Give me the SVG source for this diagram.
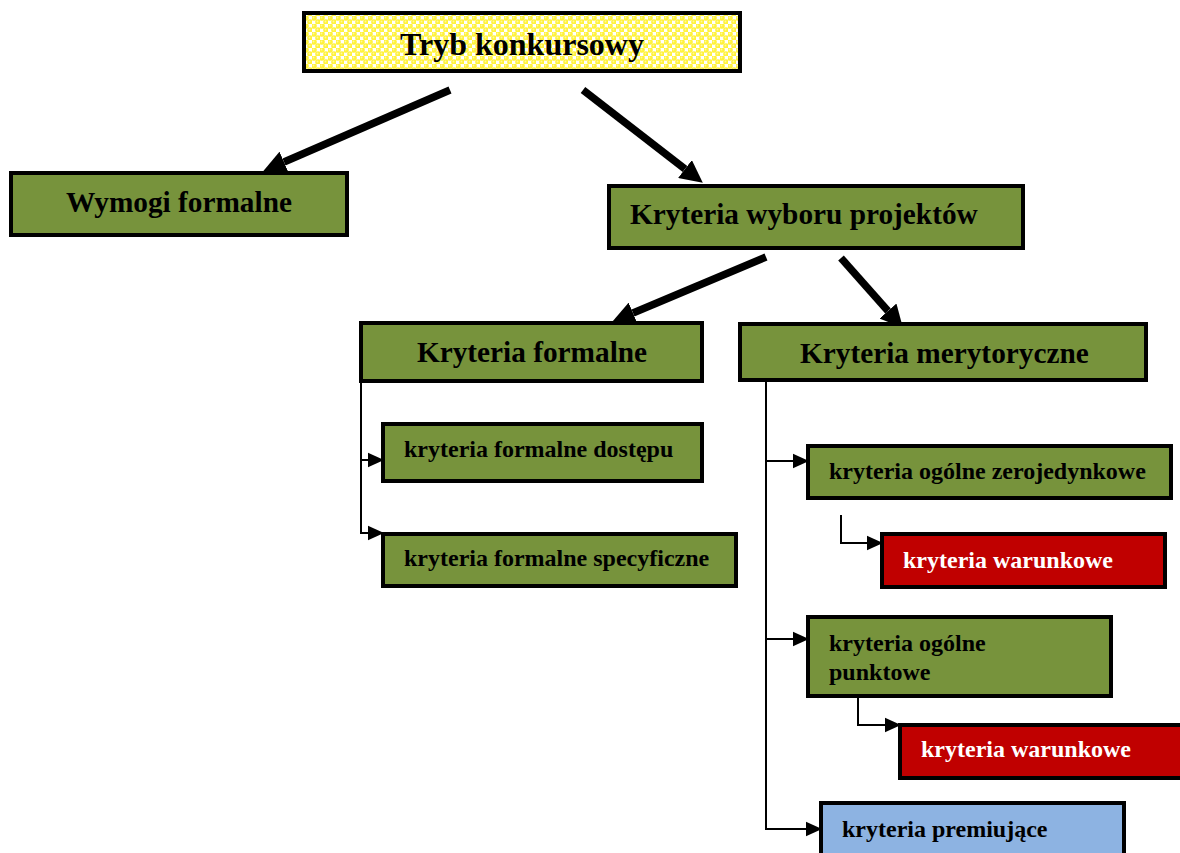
<svg xmlns="http://www.w3.org/2000/svg" width="1180" height="853" viewBox="0 0 1180 853">
<style>
.box{stroke:#000;stroke-width:4}
.g{fill:#77933C}
.r{fill:#C00000}
.b{fill:#8DB3E2}
text{font-family:"Liberation Serif","Times New Roman",serif;font-weight:bold;fill:#000}
.t1{font-size:32px}
.t2{font-size:29.3px}
.t3{font-size:24px}
.w{fill:#fff}
.thick{stroke:#000;stroke-width:7.5;fill:none}
.thin{stroke:#000;stroke-width:2;fill:none}
</style>
<defs>
<pattern id="bub" width="8" height="8" patternUnits="userSpaceOnUse">
<rect width="8" height="8" fill="#fff"/>
<circle cx="2" cy="2" r="2.8" fill="#FFF23C"/>
<circle cx="6" cy="6" r="2.8" fill="#FFF23C"/>
<circle cx="1.5" cy="1.5" r="0.9" fill="#FFFA9A"/>
<circle cx="5.5" cy="5.5" r="0.9" fill="#FFFA9A"/>
</pattern>
<marker id="big" viewBox="0 0 10 10" refX="0" refY="5" markerWidth="3" markerHeight="3" orient="auto" markerUnits="strokeWidth">
<path d="M0,0 L10,5 L0,10 z" fill="#000"/>
</marker>
<marker id="small" viewBox="0 0 10 10" refX="10" refY="5" markerWidth="16" markerHeight="16" orient="auto" markerUnits="userSpaceOnUse">
<path d="M0,0.5 L10,5 L0,9.5 z" fill="#000"/>
</marker>
</defs>
<rect width="1180" height="853" fill="#fff"/>
<g id="connectors">
<line class="thick" x1="450" y1="90" x2="284" y2="162" marker-end="url(#big)"/>
<line class="thick" x1="583" y1="90" x2="685" y2="169" marker-end="url(#big)"/>
<line class="thick" x1="766" y1="257" x2="633" y2="313" marker-end="url(#big)"/>
<line class="thick" x1="841" y1="258" x2="888" y2="311" marker-end="url(#big)"/>
<line class="thin" x1="361" y1="383" x2="361" y2="533"/>
<line class="thin" x1="361" y1="460" x2="384" y2="460" marker-end="url(#small)"/>
<line class="thin" x1="360" y1="533" x2="384" y2="533" marker-end="url(#small)"/>
<line class="thin" x1="766" y1="382" x2="766" y2="829"/>
<line class="thin" x1="766" y1="461" x2="809" y2="461" marker-end="url(#small)"/>
<line class="thin" x1="766" y1="639" x2="809" y2="639" marker-end="url(#small)"/>
<line class="thin" x1="765" y1="829" x2="822" y2="829" marker-end="url(#small)"/>
<path class="thin" d="M841,515 V543 H883" marker-end="url(#small)"/>
<path class="thin" d="M858,698 V725 H901" marker-end="url(#small)"/>
</g>
<g id="tryb">
<rect class="box" x="304" y="13" width="436" height="58" fill="url(#bub)"/>
<text class="t1" x="522" y="55" text-anchor="middle">Tryb konkursowy</text>
</g>
<g id="wymogi">
<rect class="box g" x="11" y="173" width="336" height="62"/>
<text class="t2" x="179" y="212" text-anchor="middle">Wymogi formalne</text>
</g>
<g id="wyboru">
<rect class="box g" x="609" y="186" width="414" height="62"/>
<text class="t2" x="630" y="224">Kryteria wyboru projektów</text>
</g>
<g id="formalne">
<rect class="box g" x="361" y="323" width="341" height="58"/>
<text class="t2" x="532" y="362" text-anchor="middle">Kryteria formalne</text>
</g>
<g id="merytoryczne">
<rect class="box g" x="740" y="324" width="406" height="56"/>
<text class="t2" x="800" y="363">Kryteria merytoryczne</text>
</g>
<g id="dostepu">
<rect class="box g" x="383" y="424" width="319" height="57"/>
<text class="t3" x="404" y="457">kryteria formalne dostępu</text>
</g>
<g id="specyficzne">
<rect class="box g" x="383" y="534" width="353" height="52"/>
<text class="t3" x="404" y="566">kryteria formalne specyficzne</text>
</g>
<g id="zerojedynkowe">
<rect class="box g" x="808" y="446" width="363" height="52"/>
<text class="t3" x="829" y="479">kryteria ogólne zerojedynkowe</text>
</g>
<g id="warunkowe1">
<rect class="box r" x="882" y="534" width="283" height="53"/>
<text class="t3 w" x="903" y="568">kryteria warunkowe</text>
</g>
<g id="punktowe">
<rect class="box g" x="808" y="617" width="303" height="79"/>
<text class="t3" x="829" y="651">kryteria ogólne</text>
<text class="t3" x="829" y="680">punktowe</text>
</g>
<g id="warunkowe2">
<rect class="box r" x="900" y="725" width="300" height="53"/>
<text class="t3 w" x="921" y="757">kryteria warunkowe</text>
</g>
<g id="premiujace">
<rect class="box b" x="821" y="803" width="303" height="70"/>
<text class="t3" x="842" y="837">kryteria premiujące</text>
</g>
</svg>
